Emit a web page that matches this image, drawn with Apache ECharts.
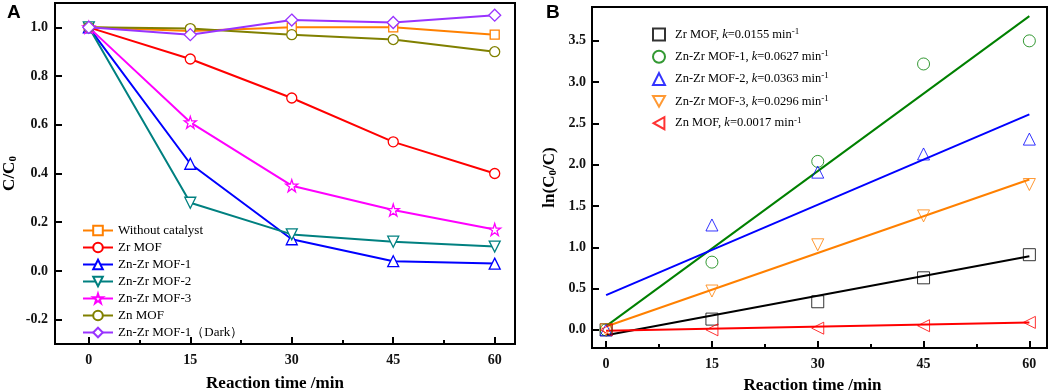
<!DOCTYPE html>
<html>
<head>
<meta charset="utf-8">
<script src="https://cdn.jsdelivr.net/npm/echarts@6/dist/echarts.min.js"></script>
<style>
  html, body { margin: 0; padding: 0; background: #fff; }
  #chart { width: 1052px; height: 391px; }
</style>
</head>
<body>
<div id="chart"></div>
<script>
// panel A: C/C0 vs time
const times = [0, 15, 30, 45, 60]
const namesA = ['Without catalyst', 'Zr MOF', 'Zn-Zr MOF-1', 'Zn-Zr MOF-2', 'Zn-Zr MOF-3', 'Zn MOF', 'Zn-Zr MOF-1（Dark）']
const withoutCatalyst = [1.0, 0.985, 1.0, 1.0, 0.97]
const zrMof = [1.0, 0.87, 0.71, 0.53, 0.40]
const znZrMof1 = [1.0, 0.44, 0.13, 0.04, 0.03]
const znZrMof2 = [1.0, 0.28, 0.15, 0.12, 0.10]
const znZrMof3 = [1.0, 0.61, 0.35, 0.25, 0.17]
const znMof = [1.0, 0.995, 0.97, 0.95, 0.90]
const znZrMof1Dark = [1.0, 0.97, 1.03, 1.02, 1.05]
const ticksX = [0, 15, 30, 45, 60]
const minorX = [7.5, 22.5, 37.5, 52.5]
const ticksA_y = [-0.2, 0, 0.2, 0.4, 0.6, 0.8, 1.0]

// panel B: ln(C0/C) vs time, with linear fits
const namesB = ['Zr MOF', 'Zn-Zr MOF-1', 'Zn-Zr MOF-2', 'Zn-Zr MOF-3', 'Zn MOF']
const rateK = ['0.0155', '0.0627', '0.0363', '0.0296', '0.0017']
const lnZrMof = [0, 0.13, 0.34, 0.63, 0.91]
const lnZnZrMof1 = [0, 0.82, 2.04, 3.22, 3.50]
const lnZnZrMof2 = [0, 1.27, 1.91, 2.13, 2.31]
const lnZnZrMof3 = [0, 0.47, 1.03, 1.38, 1.76]
const lnZnMof = [0, 0.0, 0.02, 0.05, 0.09]
const fitTimes = [0, 60]
const fitAt0 = [-0.065, 0.045, 0.42, 0.04, -0.01]
const fitAt60 = [0.89, 3.80, 2.61, 1.82, 0.09]
const ticksB_y = [0, 0.5, 1.0, 1.5, 2.0, 2.5, 3.0, 3.5]

const serif = '"Liberation Serif", "Times New Roman", serif'
const colorsA = ['#ff8000', '#ff0000', '#0000ff', '#008080', '#ff00ff', '#808000', '#9933ff']
const colorsB = ['#000000', '#008000', '#0000ff', '#ff8000', '#ff0000']
const star = 'path://M50,2 L61,36 L97,36 L68,57 L79,92 L50,71 L21,92 L32,57 L3,36 L39,36 Z'
const triDown = 'path://M0,0 L20,0 L10,18 Z'
const triLeft = 'path://M0,10 L18,0 L18,20 Z'

const seriesA = [withoutCatalyst, zrMof, znZrMof1, znZrMof2, znZrMof3, znMof, znZrMof1Dark]
const symbolsA = ['rect', 'circle', 'triangle', triDown, star, 'circle', 'diamond']
const sizeA = [9, 10, 11, 11, 12, 10, 12]

const seriesB = [lnZrMof, lnZnZrMof1, lnZnZrMof2, lnZnZrMof3, lnZnMof]
const symbolsB = ['rect', 'circle', 'triangle', triDown, triLeft]
// legend keys for panel B must differ from panel A names
const keysB = namesB.map((n, i) => n + ', k=' + rateK[i])

const axisLine = { show: true, onZero: false, lineStyle: { color: '#000', width: 2 } }
const tickLabel = { color: '#111', fontFamily: serif, fontWeight: 'bold', fontSize: 14 }
const nameStyle = { color: '#000', fontFamily: serif, fontWeight: 'bold', fontSize: 17 }
const subRich = { sub: { fontFamily: serif, fontWeight: 'bold', fontSize: 11, verticalAlign: 'bottom', padding: [8, 0, 0, 0] } }

const chart = echarts.init(document.getElementById('chart'))

const series = []
seriesA.forEach((vals, i) => {
  series.push({
    name: namesA[i],
    type: 'line',
    xAxisIndex: 0,
    yAxisIndex: 0,
    data: times.map((t, j) => [t, vals[j]]),
    symbol: symbolsA[i],
    symbolSize: sizeA[i],
    showAllSymbol: true,
    lineStyle: { color: colorsA[i], width: 2 },
    itemStyle: { color: '#fff', borderColor: colorsA[i], borderWidth: 1.3 },
    emphasis: { disabled: true },
    z: 2 + i
  })
})
seriesB.forEach((vals, i) => {
  series.push({
    name: keysB[i],
    type: 'scatter',
    xAxisIndex: 2,
    yAxisIndex: 1,
    data: times.map((t, j) => [t, vals[j]]),
    symbol: symbolsB[i],
    symbolSize: 12,
    itemStyle: { color: 'rgba(255,255,255,0)', borderColor: colorsB[i], borderWidth: 1 },
    emphasis: { disabled: true },
    z: 5
  })
  series.push({
    name: 'fit ' + namesB[i],
    type: 'line',
    xAxisIndex: 2,
    yAxisIndex: 1,
    data: [[fitTimes[0], fitAt0[i]], [fitTimes[1], fitAt60[i]]],
    symbol: 'none',
    lineStyle: { color: colorsB[i], width: 2 },
    emphasis: { disabled: true },
    z: 3
  })
})

chart.setOption({
  animation: false,
  grid: [
    { left: 55, top: 3, right: 537, bottom: 47, show: true, borderColor: '#000', borderWidth: 2, outerBoundsMode: 'none' },
    { left: 592, top: 7, right: 5, bottom: 43, show: true, borderColor: '#000', borderWidth: 2, outerBoundsMode: 'none' }
  ],
  xAxis: [
    {
      type: 'value', gridIndex: 0, min: -5, max: 63,
      axisLine,
      axisTick: { inside: true, length: 7, lineStyle: { color: '#000', width: 2 }, customValues: ticksX },
      axisLabel: Object.assign({ margin: 9, customValues: ticksX }, tickLabel),
      splitLine: { show: false },
      name: 'Reaction time /min', nameLocation: 'middle', nameGap: 31,
      nameTextStyle: Object.assign({ padding: [0, 20, 0, 0] }, nameStyle)
    },
    {
      type: 'value', gridIndex: 0, min: -5, max: 63, position: 'bottom',
      axisLine: { show: false, onZero: false },
      axisTick: { inside: true, length: 4, lineStyle: { color: '#000', width: 2 }, customValues: minorX },
      axisLabel: { show: false },
      splitLine: { show: false }
    },
    {
      type: 'value', gridIndex: 1, min: -2, max: 62.5,
      axisLine,
      axisTick: { inside: true, length: 7, lineStyle: { color: '#000', width: 2 }, customValues: ticksX },
      axisLabel: Object.assign({ margin: 9, customValues: ticksX }, tickLabel),
      splitLine: { show: false },
      name: 'Reaction time /min', nameLocation: 'middle', nameGap: 29,
      nameTextStyle: Object.assign({ padding: [0, 14, 0, 0] }, nameStyle)
    },
    {
      type: 'value', gridIndex: 1, min: -2, max: 62.5, position: 'bottom',
      axisLine: { show: false, onZero: false },
      axisTick: { inside: true, length: 4, lineStyle: { color: '#000', width: 2 }, customValues: minorX },
      axisLabel: { show: false },
      splitLine: { show: false }
    }
  ],
  yAxis: [
    {
      type: 'value', gridIndex: 0, min: -0.3, max: 1.1,
      axisLine,
      axisTick: { inside: true, length: 7, lineStyle: { color: '#000', width: 2 }, customValues: ticksA_y },
      axisLabel: Object.assign({ margin: 7, customValues: ticksA_y, formatter: v => v.toFixed(1) }, tickLabel),
      splitLine: { show: false },
      name: 'C/C{sub|0}', nameLocation: 'middle', nameGap: 36, nameRotate: 90,
      nameTextStyle: Object.assign({ rich: subRich }, nameStyle)
    },
    {
      type: 'value', gridIndex: 1, min: -0.22, max: 3.91,
      axisLine,
      axisTick: { inside: true, length: 7, lineStyle: { color: '#000', width: 2 }, customValues: ticksB_y },
      axisLabel: Object.assign({ margin: 6, customValues: ticksB_y, formatter: v => v.toFixed(1) }, tickLabel),
      splitLine: { show: false },
      name: 'ln(C{sub|0}/C)', nameLocation: 'middle', nameGap: 33, nameRotate: 90,
      nameTextStyle: Object.assign({ rich: subRich }, nameStyle)
    }
  ],
  legend: [
    {
      data: namesA,
      orient: 'vertical',
      left: 77, top: 219,
      itemWidth: 30, itemHeight: 12, itemGap: 4,
      textStyle: { fontFamily: serif, fontSize: 13, color: '#000' },
      selectedMode: false
    },
    {
      data: keysB,
      orient: 'vertical',
      left: 647, top: 22,
      itemWidth: 12, itemHeight: 12, itemGap: 7.8,
      selectedMode: false,
      formatter: key => {
        const i = keysB.indexOf(key)
        return namesB[i] + ', {it|k}=' + rateK[i] + ' min{sup|-1}'
      },
      textStyle: {
        fontFamily: serif, fontSize: 12.5, color: '#000', padding: [0, 0, 0, 5],
        rich: {
          it: { fontFamily: serif, fontSize: 12.5, fontStyle: 'italic', color: '#000' },
          sup: { fontFamily: serif, fontSize: 9, color: '#000', verticalAlign: 'top', padding: [0, 0, 6, 0] }
        }
      }
    }
  ],
  graphic: [
    { type: 'text', left: 7, top: 3, style: { text: 'A', font: 'bold 19px "Liberation Sans", Arial, sans-serif', fill: '#000' } },
    { type: 'text', left: 546, top: 3, style: { text: 'B', font: 'bold 19px "Liberation Sans", Arial, sans-serif', fill: '#000' } }
  ],
  series
})
</script>
</body>
</html>
